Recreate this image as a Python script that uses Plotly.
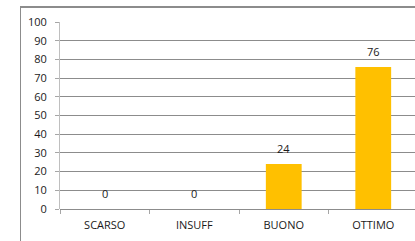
import plotly.graph_objects as go

categories = ["SCARSO", "INSUFF", "BUONO", "OTTIMO"]
values = [0, 0, 24, 76]
y_ticks = [0, 10, 20, 30, 40, 50, 60, 70, 80, 90, 100]

W, H = 415, 241
L, R, T, B = 60, 0, 22, 32
pw = W - L - R
ph = H - T - B

fig = go.Figure(go.Bar(
    x=categories, y=values,
    marker=dict(color="#FFC000", line=dict(width=0)),
    width=0.4,
    hoverinfo="skip",
))

for c, v in zip(categories, values):
    fig.add_annotation(
        x=c, y=v, xref="x", yref="y",
        text=str(v), showarrow=False,
        yanchor="bottom", yshift=6,
        font=dict(size=11, color="#1A1A1A", family="Open Sans"),
    )

fig.update_layout(
    width=W, height=H,
    margin=dict(l=L, r=R, t=T, b=B, pad=0, autoexpand=False),
    paper_bgcolor="white", plot_bgcolor="white",
    showlegend=False,
    font=dict(family="Open Sans", size=11, color="#1A1A1A"),
    xaxis=dict(
        range=[-0.5, 3.5 - 3 / 89.5],
        showgrid=False, zeroline=False,
        showline=False,
        ticks="outside", ticklen=4, tickcolor="#A6A6A6",
        tickson="boundaries",
        tickfont=dict(size=11, family="Open Sans", color="#1A1A1A"),
        ticklabelstandoff=8,
        automargin=False,
    ),
    yaxis=dict(
        range=[0, 100],
        tickvals=y_ticks,
        showgrid=True, gridcolor="#8C8C8C", gridwidth=1,
        zeroline=True, zerolinecolor="#8C8C8C", zerolinewidth=1,
        showline=True, linecolor="#BFBFBF", linewidth=1,
        ticks="outside", ticklen=4, tickcolor="#A6A6A6",
        tickfont=dict(size=11, family="Open Sans", color="#1A1A1A"),
        ticklabelstandoff=6,
        automargin=False,
    ),
)

def py(page_y):
    return 1 + (T - page_y) / ph

# outer chart border (partially cropped): top and left edges
fig.add_shape(
    type="line", xref="paper", yref="paper",
    x0=(20 - L) / pw, x1=1.0,
    y0=py(7), y1=py(7),
    line=dict(color="#8C8C8C", width=2),
)
fig.add_shape(
    type="line", xref="paper", yref="paper",
    x0=(20.5 - L) / pw, x1=(20.5 - L) / pw,
    y0=-B / ph, y1=py(7),
    line=dict(color="#8C8C8C", width=1),
)

fig.write_html(
    "out.html",
    config={"displayModeBar": False},
    post_script="document.body.style.margin='0';document.body.style.overflow='hidden';",
)
